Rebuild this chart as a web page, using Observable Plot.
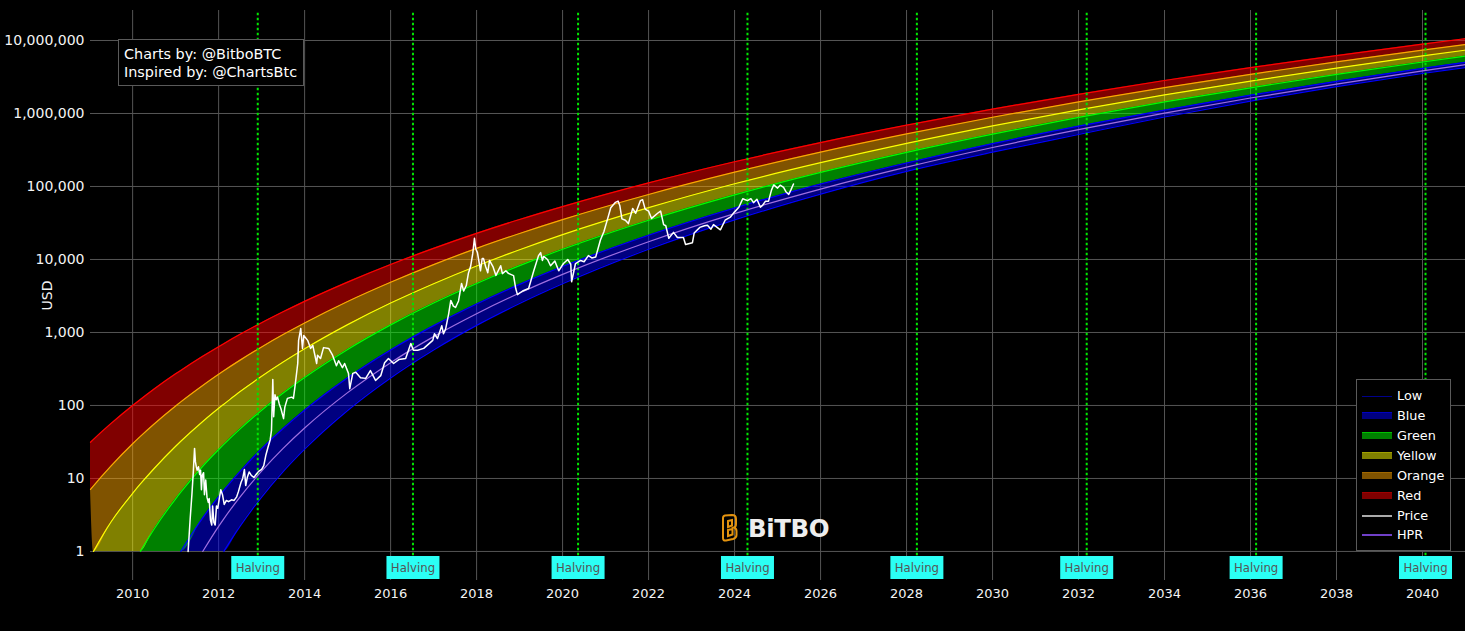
<!DOCTYPE html>
<html><head><meta charset="utf-8">
<script src="https://cdn.jsdelivr.net/npm/d3@7"></script>
<script src="https://cdn.jsdelivr.net/npm/@observablehq/plot@0.6"></script>
<style>
html,body{margin:0;padding:0;background:#000;overflow:hidden}
#wrap{position:relative;width:1465px;height:631px;font-family:"DejaVu Sans",sans-serif;color:#fff}
#wrap svg.plot,#wrap>svg{display:block}
.box{position:absolute;background:#000;border:1px solid #5a5a5a;box-sizing:border-box}
#credit{left:118px;top:39px;width:186px;height:47px;font-size:14.4px;line-height:18px;padding:5px 0 0 5px;white-space:nowrap}
#legend{left:1356px;top:379px;width:95px;height:172px;font-size:12.8px}
.row{position:absolute;left:0;height:20px;line-height:20px;width:93px}
.row span{position:absolute;left:40px;top:0}
.row i{position:absolute;left:5px;width:30px;box-sizing:border-box;display:block}
#logo{position:absolute;left:721px;top:512px;width:112px;height:32px}
</style></head><body>
<div id="wrap"></div>
<script>
const years = [2009.02,2009.09,2009.5,2010,2010.18,2010.5,2011,2011.12,2011.63,2012,2012.12,2012.5,2013,2013.5,2014,2015,2016,2017,2018,2019,2020,2022,2024,2026,2028,2030,2032,2034,2036,2038,2040,2041];
const redTop = [31.3,34.3,56.8,99.9,121,168,271,302,471,639,703,943,1360,1920,2670,4900,8540,14200,22800,35300,53100,112000,218000,399000,691000,1150000,1830000,2830000,4250000,6220000,8920000,10600000];
const orangeTop = [7.07,7.93,14.9,29.9,37.7,55.8,98.4,112,188,268,299,418,634,936,1350,2660,4880,8510,14200,22700,35200,77700,157000,296000,525000,889000,1440000,2260000,3440000,5100000,7390000,8820000];
const yellowTop = [null,1,2.55,6.26,8.4,13.7,27.6,32.3,60.4,91.7,104,155,251,393,597,1280,2530,4660,8150,13600,21900,51300,109000,212000,389000,676000,1120000,1800000,2780000,4190000,6140000,7380000];
const greenTop = [null,null,null,null,1,2.03,5.27,6.49,14.7,24.9,29.3,47.8,86.2,148,242,586,1270,2530,4690,8240,13800,34500,76800,156000,294000,522000,884000,1440000,2250000,3430000,5070000,6120000];
const blueTop = [null,null,null,null,null,null,null,1,2.88,5.62,6.88,12.5,25.6,48.4,86.4,240,576,1240,2460,4560,8000,21500,50700,108000,210000,386000,671000,1110000,1780000,2760000,4150000,5040000];
const hprLine = [null,null,null,null,null,null,null,null,1,2.21,2.8,5.6,12.6,25.8,49.1,150,386,877,1810,3470,6250,17500,42500,92200,184000,342000,601000,1010000,1630000,2530000,3830000,4670000];
const lowLine = [null,null,null,null,null,null,null,null,null,null,1,2.22,5.55,12.4,25.2,85.5,238,575,1250,2490,4640,13800,34900,78600,161000,295000,515000,896000,1480000,2340000,3530000,4270000];

const price = [[2011.29,1],[2011.34,2.9],[2011.38,6.2],[2011.41,12],[2011.44,25.8],[2011.46,17],[2011.48,14.5],[2011.5,13],[2011.53,14.5],[2011.56,11.3],[2011.58,13],[2011.6,7],[2011.62,11],[2011.65,12],[2011.67,6],[2011.7,9.5],[2011.73,5.5],[2011.76,4.7],[2011.78,5.3],[2011.81,2.7],[2011.84,2.3],[2011.86,4.2],[2011.89,2.5],[2011.92,2.3],[2011.95,4.2],[2011.98,3.9],[2012.02,5.5],[2012.05,7],[2012.09,6],[2012.13,4.4],[2012.18,5],[2012.23,4.8],[2012.3,5.1],[2012.36,5],[2012.42,5.6],[2012.46,6.6],[2012.52,8.8],[2012.56,10],[2012.6,13.3],[2012.63,8],[2012.67,10.5],[2012.71,12.3],[2012.76,11],[2012.82,10.3],[2012.88,11.5],[2012.93,12.5],[2013,13.3],[2013.05,15],[2013.1,21],[2013.15,27],[2013.2,34],[2013.23,46],[2013.26,227],[2013.28,70],[2013.31,140],[2013.34,120],[2013.37,130],[2013.41,105],[2013.45,90],[2013.51,66],[2013.54,95],[2013.6,125],[2013.7,130],[2013.74,125],[2013.78,190],[2013.84,376],[2013.86,780],[2013.91,1130],[2013.95,605],[2013.98,910],[2014.07,780],[2014.14,605],[2014.19,664],[2014.28,376],[2014.3,488],[2014.37,440],[2014.44,620],[2014.56,605],[2014.65,488],[2014.74,350],[2014.79,410],[2014.88,330],[2014.93,376],[2015.02,275],[2015.05,170],[2015.12,275],[2015.19,285],[2015.3,240],[2015.42,235],[2015.53,300],[2015.65,220],[2015.77,256],[2015.86,385],[2015.95,440],[2016.07,376],[2016.19,425],[2016.35,440],[2016.47,705],[2016.53,570],[2016.63,570],[2016.77,605],[2016.98,780],[2017.02,960],[2017.09,825],[2017.19,1240],[2017.23,960],[2017.28,1120],[2017.35,1800],[2017.4,2750],[2017.46,2300],[2017.51,2200],[2017.58,2700],[2017.65,4700],[2017.7,3700],[2017.76,4400],[2017.81,6500],[2017.86,8000],[2017.91,12000],[2017.95,19500],[2017.98,14000],[2018.02,12400],[2018.06,9000],[2018.09,7000],[2018.13,10300],[2018.16,10300],[2018.21,8000],[2018.26,6600],[2018.3,9700],[2018.38,8000],[2018.45,6050],[2018.56,8200],[2018.6,6400],[2018.68,7000],[2018.74,6450],[2018.86,6000],[2018.91,4000],[2018.95,3300],[2019.07,3700],[2019.21,4000],[2019.33,7000],[2019.44,11300],[2019.49,12400],[2019.53,9700],[2019.56,11000],[2019.65,10000],[2019.72,8200],[2019.82,9500],[2019.91,7000],[2020.02,8800],[2020.12,10000],[2020.19,8600],[2020.21,4950],[2020.3,8800],[2020.42,9700],[2020.5,9300],[2020.6,11300],[2020.68,10500],[2020.77,10800],[2020.88,18500],[2020.96,24000],[2021.05,36600],[2021.12,51000],[2021.23,60700],[2021.29,63000],[2021.33,55000],[2021.38,36000],[2021.46,34500],[2021.53,31000],[2021.63,50000],[2021.7,43000],[2021.81,64000],[2021.86,66000],[2021.92,49000],[2022.0,46000],[2022.07,36500],[2022.21,43000],[2022.28,46000],[2022.35,30000],[2022.4,29000],[2022.47,19500],[2022.58,23500],[2022.67,20000],[2022.81,20000],[2022.86,16000],[2023.02,17000],[2023.06,23000],[2023.19,27500],[2023.3,29000],[2023.37,29500],[2023.45,26000],[2023.51,30000],[2023.67,25500],[2023.78,34500],[2023.9,38000],[2023.98,43500],[2024.1,52000],[2024.19,68000],[2024.3,64000],[2024.38,68000],[2024.44,60000],[2024.52,67000],[2024.6,52000],[2024.65,55000],[2024.72,63000],[2024.79,63000],[2024.86,90000],[2024.91,105000],[2025.0,95000],[2025.06,104000],[2025.14,97000],[2025.2,84000],[2025.26,78000],[2025.31,90000],[2025.37,108000]];

const halvingYears = [2012.91,2016.52,2020.36,2024.3,2028.24,2032.19,2036.13,2040.07];
const xTicks = d3.range(2010,2041,2);
const yTicks = [1,10,100,1000,10000,100000,1000000,10000000];
const bands = [
 {name:"Blue",  fill:"#0000ff", upper:blueTop,   lower:lowLine},
 {name:"Green", fill:"#00ff00", upper:greenTop,  lower:blueTop},
 {name:"Yellow",fill:"#ffff00", upper:yellowTop, lower:greenTop},
 {name:"Orange",fill:"#ffa500", upper:orangeTop, lower:yellowTop},
 {name:"Red",   fill:"#ff0000", upper:redTop,    lower:orangeTop}
];
const lines = [
 {name:"Low",   stroke:"#0000ff", values:lowLine},
 {name:"Blue",  stroke:"#0000ff", values:blueTop},
 {name:"Green", stroke:"#00ff00", values:greenTop},
 {name:"Yellow",stroke:"#ffff00", values:yellowTop},
 {name:"Orange",stroke:"#ffa500", values:orangeTop},
 {name:"Red",   stroke:"#ff0000", values:redTop}
];
const legendRows = [
 ["Low",   396,  "#00008c","#0000ff",1],
 ["Blue",  415.7,"#000080","#0000c0",7],
 ["Green", 435.7,"#008000","#00c000",7],
 ["Yellow",455.7,"#808000","#a0a000",7],
 ["Orange",475.7,"#805300","#a06800",7],
 ["Red",   495.7,"#800000","#a00000",7],
 ["Price", 515.5,"#aaaaaa","#aaaaaa",2],
 ["HPR",   535,  "#7040c8","#7040c8",2]
];

const marks = [
 Plot.gridX(xTicks,{stroke:"#555",strokeOpacity:1}),
 Plot.gridY(yTicks,{stroke:"#555",strokeOpacity:1}),
];
for (const b of bands) {
  const rows = years.map((yr,i)=>({yr,up:b.upper[i],lo:b.lower[i]??(b.name==="Orange"?b.upper[i]:1)})).filter(d=>d.up!=null);
  marks.push(Plot.areaY(rows,{x:"yr",y1:"lo",y2:"up",fill:b.fill,fillOpacity:0.5,curve:"monotone-x"}));
}
for (const l of lines) {
  const rows = years.map((yr,i)=>({yr,v:l.values[i]})).filter(d=>d.v!=null);
  marks.push(Plot.line(rows,{x:"yr",y:"v",stroke:l.stroke,strokeWidth:1.2,curve:"monotone-x"}));
}
const hprRows = years.map((yr,i)=>({yr,v:hprLine[i]})).filter(d=>d.v!=null);
marks.push(
 Plot.ruleX(halvingYears,{x:d=>d,y1:0.87,y2:2.42e7,stroke:"#00e600",strokeWidth:2,strokeDasharray:"2.5,2.5"}),
 Plot.line(hprRows,{x:"yr",y:"v",stroke:"#a070e0",strokeWidth:1.2,curve:"monotone-x"}),
 Plot.line(price,{x:d=>d[0],y:d=>d[1],stroke:"#fff",strokeWidth:1.5}),
 Plot.ruleX(halvingYears,{x:d=>d,y1:0.413,y2:0.854,stroke:"#2bfff5",strokeWidth:53}),
 Plot.text(halvingYears,{x:d=>d,y:0.595,text:()=>"Halving",fill:"#555",fontSize:11.7}),
 Plot.axisX(xTicks,{anchor:"bottom",tickSize:0,tickPadding:8,tickFormat:"d",label:null,fontSize:13,fill:"#f4f4f4"}),
 Plot.axisY(yTicks,{anchor:"left",tickSize:0,tickPadding:6,tickFormat:d3.format(","),label:"USD",labelAnchor:"center",labelArrow:"none",labelOffset:48,fontSize:14,fill:"#f4f4f4"})
);
const chart = Plot.plot({
 width:1465,height:631,
 marginLeft:90,marginRight:0,marginTop:10,marginBottom:51,
 style:{background:"#000",color:"#fff",fontFamily:"'DejaVu Sans',sans-serif",fontSize:"13px"},
 x:{type:"linear",domain:[2009.02,2041],range:[90,1465]},
 y:{type:"log",domain:[0.4,2.576e7],range:[580,10]},
 marks
});
const wrap = document.getElementById("wrap");
wrap.appendChild(chart);

const credit = document.createElement("div");
credit.className="box"; credit.id="credit";
credit.innerHTML="Charts by: @BitboBTC<br>Inspired by: @ChartsBtc";
wrap.appendChild(credit);

const legend = document.createElement("div");
legend.className="box"; legend.id="legend";
const legendTop = 380;
for (const [name,cy,fill,edge,h] of legendRows) {
  const row=document.createElement("div"); row.className="row";
  row.style.top=(cy-legendTop-10)+"px";
  const sw=document.createElement("i");
  sw.style.cssText=`top:${10-h/2}px;height:${h}px;background:${fill};`+(h>2?`border-top:1px solid ${edge};`:"");
  const t=document.createElement("span"); t.textContent=name;
  row.append(sw,t); legend.appendChild(row);
}
wrap.appendChild(legend);

const logo=document.createElement("div"); logo.id="logo";
logo.innerHTML=`<svg width="112" height="32" viewBox="0 0 112 32">
<g fill="none" stroke="#e3930f" stroke-width="2">
<path d="M2 6 Q2 4 4 3.5 L11 3 Q15 3 15 7 L15 12 Q15 15 13 15.5 Q15.5 16.5 15.5 19 L15.5 23 Q15.5 26 12 27 L5 28.5 Q2 29 2 26 Z"/>
<path d="M7 9 L11 8 L11 13.5 L7 15 Z M7 18 L11.5 17 L11.5 22.5 L7 24 Z"/>
</g>
<text x="27" y="25" font-family="DejaVu Sans" font-weight="700" font-size="24.5" letter-spacing="-0.4" fill="#eee">BiTBO</text>
</svg>`;
wrap.appendChild(logo);
</script>
</body></html>
